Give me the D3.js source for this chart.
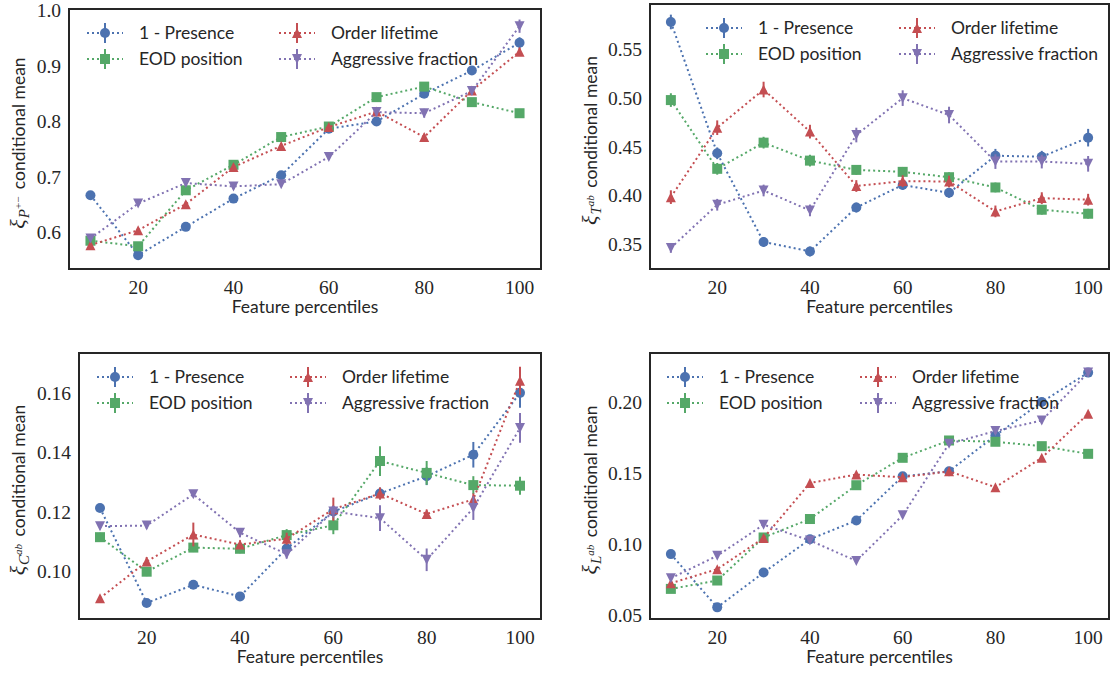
<!DOCTYPE html>
<html>
<head>
<meta charset="utf-8">
<script src="https://cdn.jsdelivr.net/npm/d3@7"></script>
<style>
  html, body { margin: 0; padding: 0; background: #ffffff; }
  svg { display: block; }
</style>
</head>
<body>
<svg id="chart" width="1110" height="675"></svg>
<script>
// ---------------- DATA ----------------
const percentiles = [10, 20, 30, 40, 50, 60, 70, 80, 90, 100];
const xTicks = [20, 40, 60, 80, 100];
const seriesNames = ["1 - Presence", "EOD position", "Order lifetime", "Aggressive fraction"];
const seriesColors = ["#4C72B0", "#55A868", "#C44E52", "#8172B2"];
const seriesMarkers = ["circle", "square", "triangle-up", "triangle-down"];

// Panel P (xi_{P+-})
const P_presence = [0.667, 0.559, 0.610, 0.661, 0.703, 0.787, 0.800, 0.850, 0.892, 0.942];
const P_eod      = [0.585, 0.575, 0.676, 0.722, 0.772, 0.791, 0.844, 0.863, 0.835, 0.815];
const P_order    = [0.577, 0.604, 0.651, 0.718, 0.756, 0.790, 0.818, 0.772, 0.856, 0.926];
const P_aggr     = [0.589, 0.652, 0.689, 0.683, 0.687, 0.736, 0.817, 0.815, 0.855, 0.972];
const P_err_presence = [0.004, 0.004, 0.004, 0.004, 0.005, 0.005, 0.005, 0.006, 0.007, 0.010];
const P_err_eod      = [0.004, 0.004, 0.005, 0.005, 0.005, 0.005, 0.006, 0.008, 0.006, 0.005];
const P_err_order    = [0.003, 0.004, 0.005, 0.005, 0.005, 0.005, 0.008, 0.006, 0.006, 0.007];
const P_err_aggr     = [0.004, 0.004, 0.005, 0.005, 0.005, 0.005, 0.007, 0.008, 0.007, 0.012];
const P_yTicks = [0.6, 0.7, 0.8, 0.9, 1.0];
const P_yDomain = [0.534, 1.003];

// Panel T (xi_{T^ab})
const T_presence = [0.578, 0.4435, 0.3527, 0.343, 0.388, 0.411, 0.403, 0.441, 0.440, 0.4595];
const T_eod      = [0.498, 0.4276, 0.4544, 0.436, 0.4265, 0.4245, 0.419, 0.4085, 0.3857, 0.3816];
const T_order    = [0.3986, 0.4697, 0.5088, 0.4657, 0.410, 0.415, 0.4146, 0.384, 0.3976, 0.396];
const T_aggr     = [0.3466, 0.3908, 0.4054, 0.385, 0.4622, 0.500, 0.4827, 0.435, 0.435, 0.4327];
const T_err_presence = [0.0075, 0.006, 0.005, 0.005, 0.005, 0.005, 0.005, 0.007, 0.006, 0.009];
const T_err_eod      = [0.007, 0.006, 0.006, 0.006, 0.005, 0.005, 0.005, 0.005, 0.005, 0.005];
const T_err_order    = [0.007, 0.0075, 0.008, 0.007, 0.006, 0.006, 0.006, 0.006, 0.006, 0.006];
const T_err_aggr     = [0.005, 0.006, 0.006, 0.006, 0.0075, 0.008, 0.0085, 0.0075, 0.007, 0.008];
const T_yTicks = [0.35, 0.40, 0.45, 0.50, 0.55];
const T_yDomain = [0.325, 0.5964];

// Panel C (xi_{C^ab})
const C_presence = [0.1213, 0.0894, 0.0955, 0.0916, 0.1077, 0.1201, 0.1262, 0.132, 0.1392, 0.160];
const C_eod      = [0.1115, 0.0999, 0.108, 0.1076, 0.1122, 0.1155, 0.1371, 0.1331, 0.129, 0.1288];
const C_order    = [0.091, 0.1033, 0.1124, 0.109, 0.111, 0.1209, 0.1262, 0.1193, 0.1242, 0.1641];
const C_aggr     = [0.1152, 0.1154, 0.1259, 0.113, 0.1058, 0.1201, 0.1179, 0.1039, 0.1213, 0.1482];
const C_err_presence = [0.001, 0.001, 0.001, 0.001, 0.0015, 0.0015, 0.002, 0.003, 0.0043, 0.005];
const C_err_eod      = [0.0015, 0.0015, 0.0015, 0.0015, 0.002, 0.003, 0.005, 0.004, 0.003, 0.003];
const C_err_order    = [0.001, 0.0015, 0.004, 0.0015, 0.002, 0.0039, 0.002, 0.0015, 0.002, 0.0047];
const C_err_aggr     = [0.001, 0.001, 0.001, 0.0015, 0.0015, 0.002, 0.0043, 0.0038, 0.004, 0.005];
const C_yTicks = [0.10, 0.12, 0.14, 0.16];
const C_yDomain = [0.084, 0.1734];

// Panel L (xi_{L^ab})
const L_presence = [0.0929, 0.0554, 0.0799, 0.1034, 0.1166, 0.1477, 0.1512, 0.1764, 0.200, 0.2207];
const L_eod      = [0.0684, 0.0743, 0.1046, 0.1176, 0.1414, 0.1607, 0.1729, 0.172, 0.1689, 0.1635];
const L_order    = [0.0724, 0.0823, 0.1042, 0.143, 0.1489, 0.147, 0.1512, 0.140, 0.1607, 0.1917];
const L_aggr     = [0.0759, 0.0917, 0.1136, 0.1025, 0.0881, 0.1202, 0.1706, 0.1795, 0.187, 0.2207];
const L_err_presence = [0.001, 0.001, 0.001, 0.001, 0.001, 0.0015, 0.0015, 0.002, 0.002, 0.003];
const L_err_eod      = [0.001, 0.001, 0.001, 0.001, 0.001, 0.0015, 0.0015, 0.0015, 0.0015, 0.0015];
const L_err_order    = [0.001, 0.001, 0.001, 0.0015, 0.0015, 0.0015, 0.0015, 0.0015, 0.0015, 0.002];
const L_err_aggr     = [0.001, 0.001, 0.001, 0.001, 0.001, 0.0015, 0.0015, 0.002, 0.002, 0.003];
const L_yTicks = [0.05, 0.10, 0.15, 0.20];
const L_yDomain = [0.0472, 0.2345];

const xDomain = [5.5, 104.5];
const xLabel = "Feature percentiles";

// ---------------- LAYOUT ----------------
const panels = [
  { box: {x0: 69, x1: 541, y0: 9, y1: 269}, labelX: 25, sub: "P", sup: "+\u2212",
    values: [P_presence, P_eod, P_order, P_aggr], errs: [P_err_presence, P_err_eod, P_err_order, P_err_aggr],
    yTicks: P_yTicks, yDomain: P_yDomain, fmt: ".1f", legendCols: [36, 228] },
  { box: {x0: 650, x1: 1109, y0: 4, y1: 269}, labelX: 597, sub: "T", sup: "ab",
    values: [T_presence, T_eod, T_order, T_aggr], errs: [T_err_presence, T_err_eod, T_err_order, T_err_aggr],
    yTicks: T_yTicks, yDomain: T_yDomain, fmt: ".2f", legendCols: [74, 267] },
  { box: {x0: 79, x1: 541, y0: 353, y1: 619}, labelX: 25, sub: "C", sup: "ab",
    values: [C_presence, C_eod, C_order, C_aggr], errs: [C_err_presence, C_err_eod, C_err_order, C_err_aggr],
    yTicks: C_yTicks, yDomain: C_yDomain, fmt: ".2f", legendCols: [36, 229] },
  { box: {x0: 650, x1: 1109, y0: 353, y1: 619}, labelX: 597, sub: "L", sup: "ab",
    values: [L_presence, L_eod, L_order, L_aggr], errs: [L_err_presence, L_err_eod, L_err_order, L_err_aggr],
    yTicks: L_yTicks, yDomain: L_yDomain, fmt: ".2f", legendCols: [35, 228] }
];

const textColor = "#262626";
const serif = "'Liberation Serif', 'DejaVu Serif', serif";
const sans = "Lato, 'Open Sans', 'DejaVu Sans', sans-serif";
const markerSize = 10;

const svg = d3.select("#chart");

function drawMarker(g, shape, cx, cy, color) {
  const s = markerSize / 2;
  if (shape === "circle") {
    g.append("circle").attr("cx", cx).attr("cy", cy).attr("r", s).attr("fill", color);
  } else if (shape === "square") {
    g.append("rect").attr("x", cx - s).attr("y", cy - s).attr("width", 2 * s).attr("height", 2 * s).attr("fill", color);
  } else if (shape === "triangle-up") {
    g.append("path").attr("d", `M${cx},${cy - s}L${cx - s},${cy + s}L${cx + s},${cy + s}Z`).attr("fill", color);
  } else {
    g.append("path").attr("d", `M${cx},${cy + s}L${cx - s},${cy - s}L${cx + s},${cy - s}Z`).attr("fill", color);
  }
}

panels.forEach(p => {
  const b = p.box;
  const x = d3.scaleLinear().domain(xDomain).range([b.x0, b.x1]);
  const y = d3.scaleLinear().domain(p.yDomain).range([b.y1, b.y0]);
  const g = svg.append("g");

  // x tick labels
  g.selectAll(".xt").data(xTicks).enter().append("text")
    .attr("x", d => x(d)).attr("y", b.y1 + 25)
    .attr("text-anchor", "middle")
    .attr("font-family", serif).attr("font-size", 19.5).attr("fill", textColor)
    .text(d => d3.format("d")(d));

  // y tick labels
  g.selectAll(".yt").data(p.yTicks).enter().append("text")
    .attr("x", b.x0 - 8).attr("y", d => y(d)).attr("dy", "0.34em")
    .attr("text-anchor", "end")
    .attr("font-family", serif).attr("font-size", 19.5).attr("fill", textColor)
    .text(d => d3.format(p.fmt)(d));

  // x label
  g.append("text")
    .attr("x", (b.x0 + b.x1) / 2).attr("y", b.y1 + 44)
    .attr("text-anchor", "middle")
    .attr("font-family", sans).attr("font-size", 17.5).attr("fill", textColor)
    .text(xLabel);

  // y label
  const cy = (b.y0 + b.y1) / 2 + 4;
  const yl = g.append("text")
    .attr("transform", `translate(${p.labelX},${cy}) rotate(-90)`)
    .attr("text-anchor", "middle").attr("fill", textColor);
  yl.append("tspan").attr("font-family", serif).attr("font-style", "italic").attr("font-size", 22).text("\u03BE");
  yl.append("tspan").attr("font-family", serif).attr("font-style", "italic").attr("font-size", 15).attr("dy", 4).attr("dx", 1).text(p.sub);
  yl.append("tspan").attr("font-family", serif).attr("font-style", p.sup === "ab" ? "italic" : "normal").attr("font-size", 11).attr("dy", -7).text(p.sup);
  yl.append("tspan").attr("font-family", sans).attr("font-size", 17.5).attr("dy", 3).attr("dx", 3).text(" conditional mean");

  // series
  const line = d3.line().x((d, i) => x(percentiles[i])).y(d => y(d));
  p.values.forEach((vals, si) => {
    const color = seriesColors[si];
    const sg = g.append("g");
    sg.append("path").datum(vals).attr("d", line)
      .attr("fill", "none").attr("stroke", color).attr("stroke-width", 2)
      .attr("stroke-dasharray", "2,3");
    vals.forEach((v, i) => {
      const e = p.errs[si][i];
      sg.append("line")
        .attr("x1", x(percentiles[i])).attr("x2", x(percentiles[i]))
        .attr("y1", y(v - e)).attr("y2", y(v + e))
        .attr("stroke", color).attr("stroke-width", 2);
    });
    vals.forEach((v, i) => drawMarker(sg, seriesMarkers[si], x(percentiles[i]), y(v), color));
  });

  // legend (2 columns, column-wise fill)
  seriesNames.forEach((name, si) => {
    const col = Math.floor(si / 2), row = si % 2;
    const mx = b.x0 + p.legendCols[col];
    const my = b.y0 + 24 + row * 26;
    const color = seriesColors[si];
    const lg = g.append("g");
    lg.append("line").attr("x1", mx - 18).attr("x2", mx + 18).attr("y1", my).attr("y2", my)
      .attr("stroke", color).attr("stroke-width", 2).attr("stroke-dasharray", "2,3");
    lg.append("line").attr("x1", mx).attr("x2", mx).attr("y1", my - 10).attr("y2", my + 10)
      .attr("stroke", color).attr("stroke-width", 2);
    drawMarker(lg, seriesMarkers[si], mx, my, color);
    lg.append("text").attr("x", mx + 34).attr("y", my).attr("dy", "0.36em")
      .attr("font-family", sans).attr("font-size", 17.5).attr("fill", textColor)
      .text(name);
  });

  // frame
  g.append("rect").attr("x", b.x0).attr("y", b.y0)
    .attr("width", b.x1 - b.x0).attr("height", b.y1 - b.y0)
    .attr("fill", "none").attr("stroke", textColor).attr("stroke-width", 2);
});
</script>
</body>
</html>
